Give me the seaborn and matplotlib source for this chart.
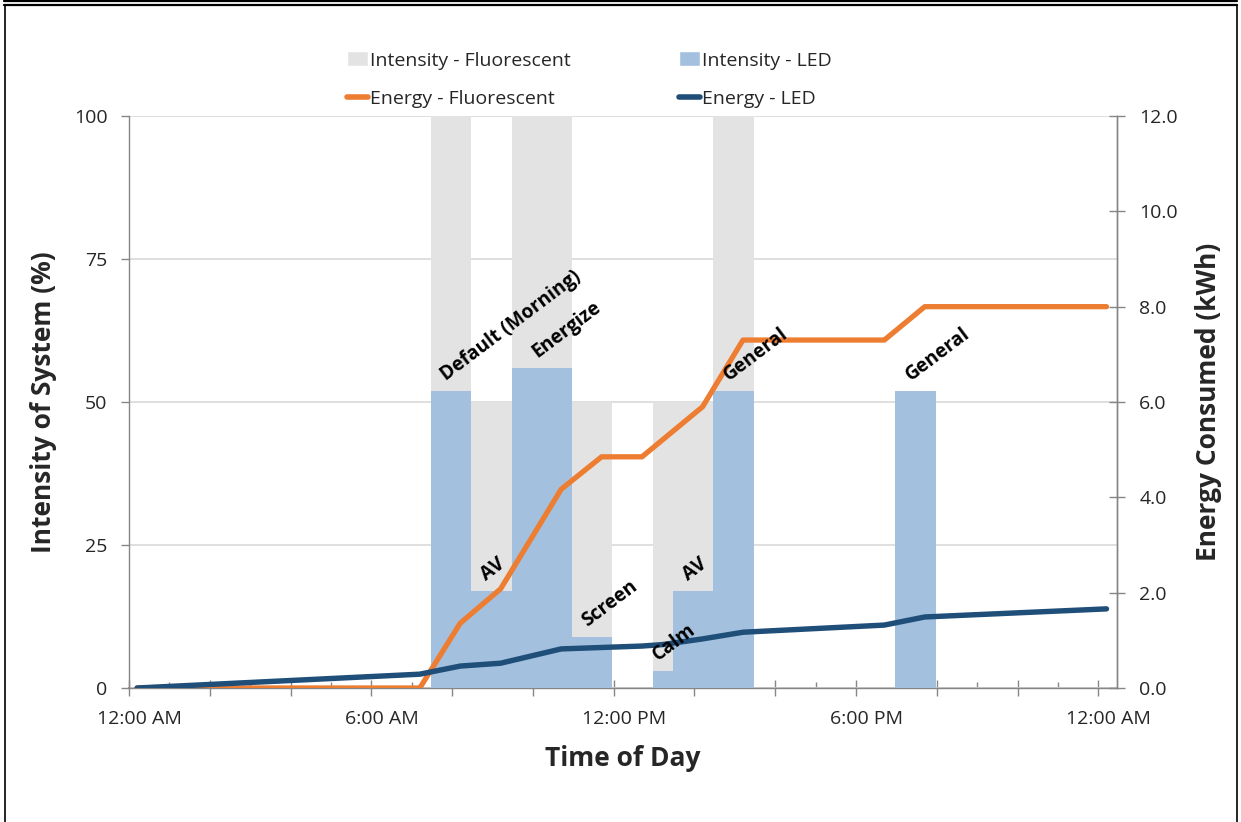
import matplotlib
matplotlib.use("Agg")
import matplotlib.pyplot as plt
from matplotlib.patches import Patch
from matplotlib.lines import Line2D
from matplotlib.ticker import FixedLocator, FormatStrFormatter
import pandas as pd
import seaborn as sns

# lighting scenes (bar slots, hours after midnight as drawn)
slot_start = [7.27, 8.27, 9.27, 10.77, 12.77, 13.27, 14.27, 18.77]
slot_width = [1.0, 1.0, 1.5, 1.0, 0.5, 1.0, 1.0, 1.0]
intensity_fluor = [100, 50, 100, 50, 50, 50, 100, 50]
intensity_led = [52, 17, 56, 9, 3, 17, 52, 52]
scene_names = ["Default (Morning)", "AV", "Energize", "Screen", "Calm", "AV", "General", "General"]

# cumulative energy (kWh)
hours = [0, 7, 8, 9, 10.5, 11.5, 12.5, 13, 14, 15, 18.5, 19.5, 24]
energy_fluor = [0, 0, 1.36, 2.08, 4.17, 4.85, 4.85, 5.2, 5.9, 7.3, 7.3, 8.0, 8.0]
energy_led = [0, 0.29, 0.46, 0.52, 0.82, 0.85, 0.88, 0.91, 1.03, 1.17, 1.32, 1.49, 1.66]

tick_hours = [0, 6, 12, 18, 24]
tick_labels = ["12:00 AM", "6:00 AM", "12:00 PM", "6:00 PM", "12:00 AM"]

c_fluor_bar = "#e3e3e3"
c_led_bar = "#a3c1de"
c_fluor_line = "#ed7d31"
c_led_line = "#1f4e79"
c_axis = "#868686"

sns.set_theme(style="white")
plt.rcParams['font.family'] = ['Open Sans', 'DejaVu Sans']

energy = pd.DataFrame({"hour": hours, "fluor": energy_fluor, "led": energy_led})

fig = plt.figure(figsize=(12.41, 8.22), dpi=100)
ax = fig.add_axes([129 / 1241, 1 - 688 / 822, 988 / 1241, 572 / 822])
ax2 = ax.twinx()

ax.bar(slot_start, intensity_fluor, width=slot_width, align='edge', color=c_fluor_bar, linewidth=0, zorder=2)
ax.bar(slot_start, intensity_led, width=slot_width, align='edge', color=c_led_bar, linewidth=0, zorder=3)

sns.lineplot(data=energy, x="hour", y="fluor", ax=ax2, color=c_fluor_line, linewidth=3.8, solid_capstyle='round')
sns.lineplot(data=energy, x="hour", y="led", ax=ax2, color=c_led_line, linewidth=3.9, solid_capstyle='round')

for s, w, h, name in zip(slot_start, slot_width, intensity_led, scene_names):
    ax2.text(s + w / 2 - 0.05, h + 1.0, name, transform=ax.transData, rotation=37,
             rotation_mode='anchor', ha='left', va='bottom', fontsize=13.8,
             fontweight='bold', color='black', zorder=10)

ax.set_xlim(-0.2, 24.26)
ax.set_ylim(0, 100)
ax2.set_ylim(0, 12)

ax.set_yticks([0, 25, 50, 75, 100])
ax2.set_yticks([0, 2, 4, 6, 8, 10, 12])
ax2.yaxis.set_major_formatter(FormatStrFormatter('%.1f'))

# labels on the main axis, tick marks (long every 2 h, short in between) separately
ax.set_xticks([h + 0.05 for h in tick_hours])
ax.set_xticklabels(tick_labels)
ax.xaxis.set_minor_locator(FixedLocator([-0.2 + 2 * k + 1 for k in range(12)]))
marks = ax.secondary_xaxis('bottom')
marks.set_xticks([-0.2 + 2 * k for k in range(13)])
marks.set_xticklabels([])
marks.spines['bottom'].set_color(c_axis)
marks.tick_params(axis='x', direction='inout', length=11, width=1, color=c_axis)

ax.grid(axis='y', color='#d9d9d9', linewidth=1.2, zorder=0)
ax.set_axisbelow(True)
for a in (ax, ax2):
    a.spines['top'].set_visible(False)
    for side in ('left', 'right', 'bottom'):
        a.spines[side].set_color(c_axis)
        a.spines[side].set_linewidth(1.0)
ax2.spines['left'].set_visible(False)
ax2.spines['bottom'].set_visible(False)

ax.tick_params(axis='x', which='major', length=0, labelsize=14, pad=16, bottom=True)
ax.tick_params(axis='x', which='minor', direction='in', length=4, width=1, color=c_axis, bottom=True)
ax.tick_params(axis='y', direction='out', length=6, width=1, color=c_axis, labelsize=14, pad=9.5, left=True)
ax2.tick_params(axis='y', direction='inout', length=12, width=1, color=c_axis, labelsize=14, pad=10, right=True)

ax.set_xlabel("Time of Day", fontsize=19, fontweight='bold', labelpad=12)
ax.set_ylabel("Intensity of System (%)", fontsize=19, fontweight='bold', labelpad=12)
ax2.set_ylabel("Energy Consumed (kWh)", fontsize=19, fontweight='bold', labelpad=12)

handles = [Patch(facecolor=c_fluor_bar, label="Intensity - Fluorescent"),
           Line2D([], [], color=c_fluor_line, linewidth=4, label="Energy - Fluorescent"),
           Patch(facecolor=c_led_bar, label="Intensity - LED"),
           Line2D([], [], color=c_led_line, linewidth=4, label="Energy - LED")]
fig.legend(handles=handles, ncol=2, loc='center', bbox_to_anchor=(0.475, 0.903), frameon=False,
           fontsize=14, handlelength=1.05, handleheight=0.8, handletextpad=0.1,
           columnspacing=5.6, labelspacing=1.05)

# page frame
for y in (1 - 1.5 / 822, 1 - 5.5 / 822):
    fig.add_artist(Line2D([4 / 1241, 1237 / 1241], [y, y], color='black', linewidth=1.6,
                          transform=fig.transFigure))
for x in (5 / 1241, 1236.5 / 1241):
    fig.add_artist(Line2D([x, x], [0, 1 - 5.5 / 822], color='black', linewidth=1.2,
                          transform=fig.transFigure))

fig.savefig("out.png", dpi=100)
